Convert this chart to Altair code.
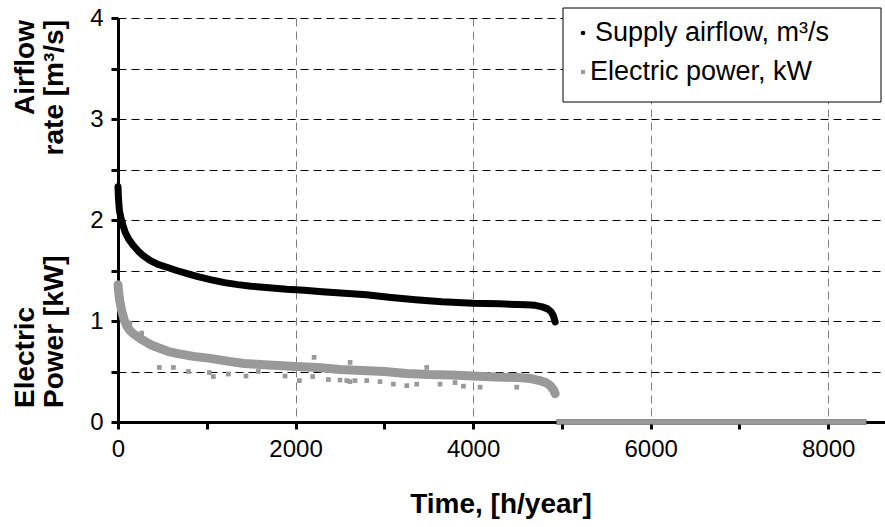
import altair as alt
import pandas as pd

# Supply airflow, m3/s, over the operating hours
air_hours = [0, 5, 15, 30, 55, 80, 120, 170, 230, 280, 360, 450, 560, 660, 780, 900,
             1040, 1200, 1350, 1500, 1700, 1900, 2100, 2300, 2550, 2800, 3050, 3350,
             3650, 4000, 4300, 4600, 4700, 4780, 4840, 4880, 4905, 4925]
air_rate = [2.33, 2.22, 2.10, 2.03, 1.95, 1.88, 1.81, 1.75, 1.69, 1.65, 1.60, 1.56,
            1.53, 1.50, 1.47, 1.44, 1.41, 1.38, 1.36, 1.345, 1.33, 1.315, 1.305, 1.29,
            1.275, 1.26, 1.235, 1.21, 1.19, 1.175, 1.17, 1.16, 1.155, 1.14, 1.12, 1.09,
            1.05, 0.99]

# Electric power, kW: main trace
power_hours = [0, 8, 20, 40, 70, 100, 140, 180, 230, 280, 380, 470, 560, 660, 850,
               1040, 1250, 1420, 1600, 1800, 2000, 2250, 2500, 2750, 3000, 3250, 3500,
               3750, 4000, 4250, 4500, 4650, 4750, 4820, 4870, 4905, 4925]
power_kw = [1.36, 1.28, 1.20, 1.11, 1.01, 0.95, 0.90, 0.87, 0.84, 0.81, 0.76, 0.73,
            0.70, 0.68, 0.65, 0.63, 0.60, 0.58, 0.57, 0.56, 0.55, 0.54, 0.52, 0.51,
            0.50, 0.48, 0.47, 0.465, 0.455, 0.445, 0.44, 0.43, 0.41, 0.39, 0.36, 0.32,
            0.28]

# Electric power, kW: scattered hourly readings
spread_hours = [135, 267, 466, 624, 793, 1029, 1074, 1243, 1442, 1581, 1882, 2043,
                2193, 2209, 2370, 2501, 2577, 2614, 2614, 2670, 2802, 2952, 3102, 3253,
                3365, 3478, 3628, 3797, 3891, 4079, 4492]
spread_kw = [0.98, 0.88, 0.54, 0.54, 0.50, 0.49, 0.45, 0.475, 0.455, 0.50, 0.455,
             0.41, 0.45, 0.64, 0.42, 0.415, 0.41, 0.40, 0.59, 0.41, 0.41, 0.40, 0.375,
             0.36, 0.375, 0.54, 0.375, 0.39, 0.355, 0.345, 0.345]

# Plant switched off: both series read zero over this span
off_hours = [4940, 8430]

FONT = "Liberation Sans"
BLACK = "#000000"
GREY = "#999999"
X_MAX = 8640

air_df = pd.DataFrame({"hours": air_hours, "value": air_rate})
power_df = pd.DataFrame({"hours": power_hours, "value": power_kw})
spread_df = pd.DataFrame({"hours": spread_hours, "value": spread_kw})
off_df = pd.DataFrame({"hours": off_hours, "value": [0.0] * len(off_hours)})
one = pd.DataFrame({"k": [0]})

x_scale = alt.Scale(domain=[0, X_MAX], nice=False)
y_scale = alt.Scale(domain=[0, 4], nice=False)

x_axis = alt.Axis(
    values=list(range(0, 9000, 1000)),
    labelExpr="datum.value % 2000 === 0 ? format(datum.value, 'd') : ''",
    title=None,
    grid=True, gridColor="#7f7f7f", gridDash=[8, 5], gridWidth=1,
    gridOpacity={"condition": {"test": "datum.value % 2000 === 0 && datum.value > 0",
                               "value": 1}, "value": 0},
    domainColor=BLACK, domainWidth=3, tickColor=BLACK, tickWidth=3, tickSize=7,
    labelFont=FONT, labelFontSize=24, labelColor=BLACK, labelPadding=8,
    labelFlush=False,
)
y_axis = alt.Axis(
    values=[v / 2 for v in range(0, 9)],
    labelExpr="datum.value % 1 === 0 ? format(datum.value, 'd') : ''",
    title=None,
    grid=True, gridColor=BLACK, gridDash=[8, 5], gridWidth=1,
    domainColor=BLACK, domainWidth=3, tickColor=BLACK, tickWidth=3, tickSize=7,
    labelFont=FONT, labelFontSize=24, labelColor=BLACK, labelPadding=8,
)

enc = dict(
    x=alt.X("hours:Q", scale=x_scale, axis=x_axis),
    y=alt.Y("value:Q", scale=y_scale, axis=y_axis),
)

air_line = alt.Chart(air_df).mark_line(
    color=BLACK, strokeWidth=7, strokeCap="round", strokeJoin="round"
).encode(**enc)
air_off = alt.Chart(off_df).mark_line(color=BLACK, strokeWidth=5).encode(**enc)
power_line = alt.Chart(power_df).mark_line(
    color=GREY, strokeWidth=9, strokeCap="round", strokeJoin="round"
).encode(**enc)
power_spread = alt.Chart(spread_df).mark_square(
    color=GREY, size=22, opacity=1
).encode(**enc)
power_off = alt.Chart(off_df).mark_line(color=GREY, strokeWidth=5).encode(**enc)


def label(text, x, y, size=28, bold=False, angle=0, align="left", baseline="middle"):
    return alt.Chart(one).mark_text(
        font=FONT, fontSize=size, fontWeight="bold" if bold else "normal",
        angle=angle, align=align, baseline=baseline, color=BLACK,
    ).encode(x=alt.value(x), y=alt.value(y), text=alt.value(text))


# axis titles
titles = [
    label("Time, [h/year]", 383, 487, bold=True, align="center"),
    label("Airflow", -92, 2, bold=True, angle=270, align="right"),
    label("rate [m³/s]", -63, 2, bold=True, angle=270, align="right"),
    label("Electric", -92, 390, bold=True, angle=270, align="left"),
    label("Power [kW]", -63, 390, bold=True, angle=270, align="left"),
]

# legend box
legend_box = alt.Chart(one).mark_rect(
    fill="white", stroke=BLACK, strokeWidth=1
).encode(x=alt.value(445), x2=alt.value(763), y=alt.value(-10), y2=alt.value(84))
legend_air = alt.Chart(one).mark_circle(color=BLACK, size=22, opacity=1).encode(
    x=alt.value(465), y=alt.value(15))
legend_pow = alt.Chart(one).mark_square(color=GREY, size=16, opacity=1).encode(
    x=alt.value(465), y=alt.value(54))
legend_texts = [
    label("Supply airflow, m³/s", 477, 15, size=27),
    label("Electric power, kW", 472, 54, size=27),
]

chart = alt.layer(
    air_line, air_off, power_line, power_spread, power_off,
    legend_box, legend_air, legend_pow, *legend_texts, *titles,
).properties(
    width=767, height=404,
    autosize=alt.AutoSizeParams(type="none"),
    padding={"left": 118, "top": 18, "right": 0, "bottom": 105},
    background="white",
).configure_view(strokeWidth=0)

chart.save("out.html", embed_options={"renderer": "svg", "actions": False})
